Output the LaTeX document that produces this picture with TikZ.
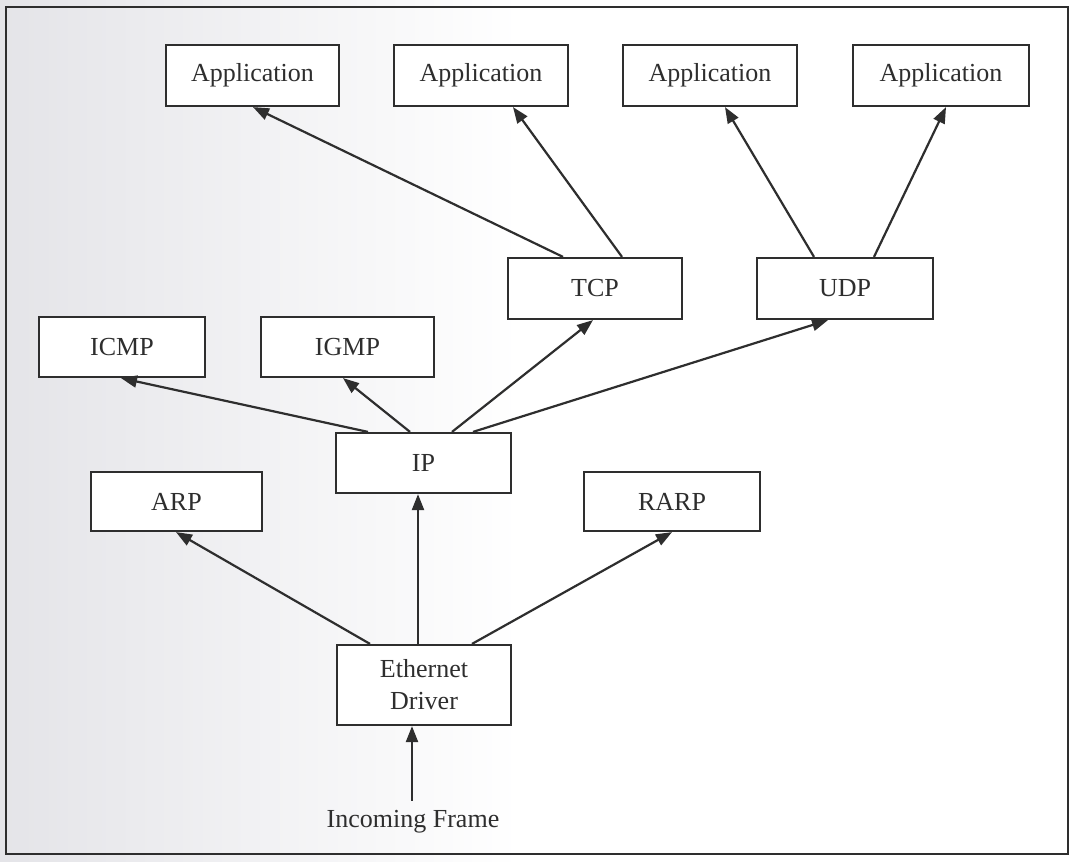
\documentclass[tikz,border=0pt]{standalone}
\usepackage{fontspec}
\setmainfont{Liberation Serif}
\usetikzlibrary{arrows.meta}
\definecolor{ink}{HTML}{2E2E2E}
\definecolor{paper}{HTML}{E4E4E8}
\begin{document}
\begin{tikzpicture}[x=1pt,y=-1pt,
  layer/.style={draw=ink, fill=white, line width=2.2pt, text=ink, inner sep=0pt,
    font=\fontsize{26}{28}\selectfont, align=center},
  arr/.style={draw=ink, line width=2.2pt,
    -{Triangle[length=16pt,width=12pt]}}]
  % page background with the grey tint of the paper on the left
  \useasboundingbox (0,0) rectangle (1071,862);
  \fill[white] (0,0) rectangle (1071,862);
  \shade[left color=paper, right color=white] (0,0) rectangle (520,862);
  \draw[ink, line width=2.4pt] (6,7) rectangle (1068,854);

  % application layer
  \node[layer, minimum width=173pt, minimum height=61pt] (app1) at (252.5,75.5) {Application};
  \node[layer, minimum width=174pt, minimum height=61pt] (app2) at (481,75.5) {Application};
  \node[layer, minimum width=174pt, minimum height=61pt] (app3) at (710,75.5) {Application};
  \node[layer, minimum width=176pt, minimum height=61pt] (app4) at (941,75.5) {Application};

  % transport layer
  \node[layer, minimum width=174pt, minimum height=61pt] (tcp) at (595,288.5) {TCP};
  \node[layer, minimum width=176pt, minimum height=61pt] (udp) at (845,288.5) {UDP};

  % network layer
  \node[layer, minimum width=166pt, minimum height=60pt] (icmp) at (122,347) {ICMP};
  \node[layer, minimum width=173pt, minimum height=60pt] (igmp) at (347.5,347) {IGMP};
  \node[layer, minimum width=175pt, minimum height=60pt] (ip) at (423.5,463) {IP};
  \node[layer, minimum width=171pt, minimum height=59pt] (arp) at (176.5,501.5) {ARP};
  \node[layer, minimum width=176pt, minimum height=59pt] (rarp) at (672,501.5) {RARP};

  % link layer
  \node[layer, minimum width=174pt, minimum height=80pt] (eth) at (424,685)
    {Ethernet\\[4pt]Driver};
  \node[text=ink, font=\fontsize{26}{28}\selectfont, inner xsep=0pt, inner ysep=9pt,
    anchor=base] (inc) at (413,827) {Incoming Frame};

  % demultiplexing paths
  \draw[arr] ([xshift=-1pt]inc.north) -- ([xshift=-12pt]eth.south);
  \draw[arr] ([xshift=-54pt]eth.north) -- ([xshift=-0.5pt]arp.south);
  \draw[arr] ([xshift=-6pt]eth.north) -- ([xshift=-5.5pt]ip.south);
  \draw[arr] ([xshift=48pt]eth.north) -- (rarp.south);

  \draw[arr] ([xshift=-55.5pt]ip.north) -- ([xshift=-1pt]icmp.south);
  \draw[arr] ([xshift=-13.5pt]ip.north) -- ([xshift=-4.5pt]igmp.south);
  \draw[arr] ([xshift=28.5pt]ip.north) -- ([xshift=-2pt]tcp.south);
  \draw[arr] ([xshift=49.5pt]ip.north) -- ([xshift=-17pt]udp.south);

  \draw[arr] ([xshift=-32pt]tcp.north) -- ([xshift=0.5pt]app1.south);
  \draw[arr] ([xshift=27pt]tcp.north) -- ([xshift=32pt]app2.south);
  \draw[arr] ([xshift=-31pt]udp.north) -- ([xshift=15pt]app3.south);
  \draw[arr] ([xshift=29pt]udp.north) -- ([xshift=5pt]app4.south);
\end{tikzpicture}
\end{document}
